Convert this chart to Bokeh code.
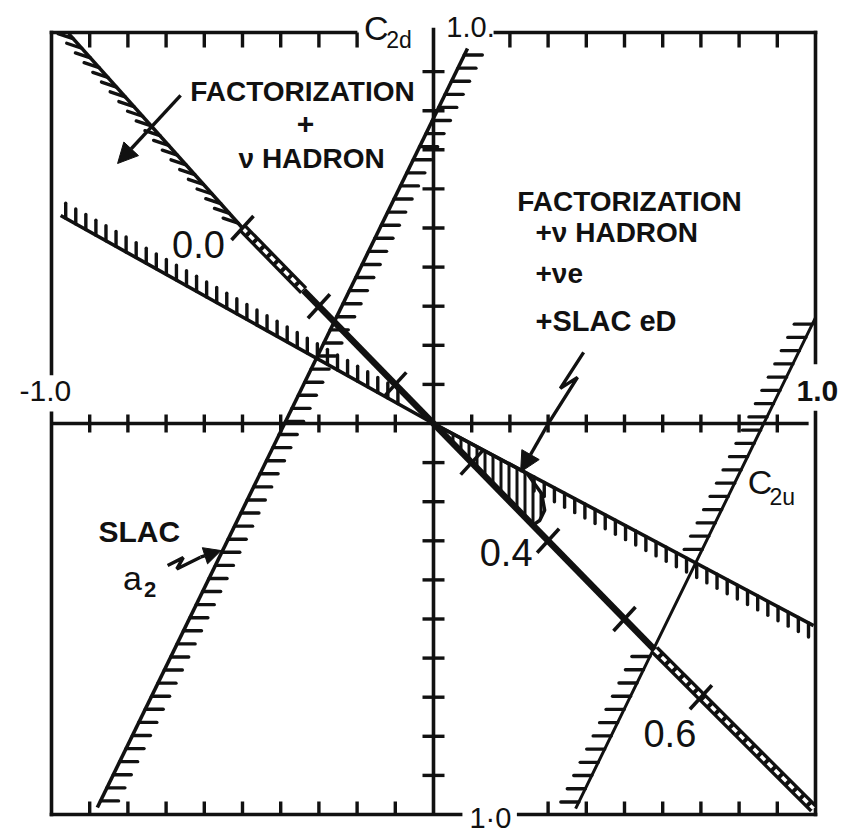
import numpy as np
from bokeh.plotting import figure
from bokeh.models import Range1d, Arrow, NormalHead, ColumnDataSource
from bokeh.core.properties import value
from bokeh.embed import file_html
from bokeh.resources import INLINE

# ---- data (C2u on x, C2d on y) ----
axis_min, axis_max = -1.0, 1.0
tick_step = 0.1

# standard-model line C2d = -C2u; vertices split it into its drawn styles
ws_c2u = [-0.955, -0.5, -0.34, 0.579, 0.995]
ws_c2d = [0.997, 0.5, 0.34, -0.579, -0.985]
# sin^2(theta_W) marks along it
ws_tick_c2u = [-0.5, -0.3, -0.1, 0.1, 0.3, 0.5, 0.7]
ws_tick_c2d = [0.5, 0.3, 0.1, -0.1, -0.3, -0.5, -0.7]
ws_tick_labels = ["0.0", "", "", "", "0.4", "", "0.6"]

# factorization + nu-hadron bound through the origin
fh_c2u = [-0.976, -0.08, 0.0, 0.25, 0.995]
fh_c2d = [0.532, 0.0436, 0.0, -0.13, -0.517]

# SLAC a2 edge
a2_c2u = [-0.880, 0.089]
a2_c2d = [-0.982, 0.959]

# C2u-side edge (hatched except between the two crossings)
cu_c2u = [0.372, 0.575, 0.695, 1.0]
cu_c2d = [-0.985, -0.579, -0.339, 0.271]

# combined allowed region
lens_c2u = [0.0, 0.245, 0.283, 0.291, 0.278, 0.26, 0.0]
lens_c2d = [0.0, -0.128, -0.179, -0.222, -0.248, -0.26, 0.0]

# ---- figure ----
SX, SY = 382.0, 391.0  # pixels per unit
p = figure(width=844, height=833,
           x_range=Range1d(-433 / SX, (844 - 433) / SX),
           y_range=Range1d(-(833 - 423) / SY, 423 / SY),
           x_axis_type=None, y_axis_type=None,
           output_backend="svg", toolbar_location=None, min_border=0)
p.grid.visible = False
p.outline_line_color = None
p.background_fill_color = "white"
p.border_fill_color = "white"

INK = "#111111"
FONT = value("Liberation Sans")


def strokes(x0, y0, x1, y1, spacing, dx_px, dy_px):
    """Short hatch strokes spaced evenly along a segment, offset in pixels."""
    length = np.hypot((x1 - x0) * SX, (y1 - y0) * SY)
    n = max(int(length // spacing), 1)
    t = (np.arange(n) + 0.5) / n
    xa = x0 + t * (x1 - x0)
    ya = y0 + t * (y1 - y0)
    return xa, ya, xa + dx_px / SX, ya + dy_px / SY


def draw_strokes(seg, width=3.4):
    x0, y0, x1, y1 = seg
    p.segment(x0, y0, x1, y1, line_color=INK, line_width=width, line_cap="round")


# ---- frame with gaps for the labels ----
fx0 = [axis_min, 0.162, axis_min, 0.223, axis_min, axis_min, axis_max, axis_max]
fy0 = [axis_max, axis_max, axis_min, axis_min, axis_max, 0.026, axis_max, 0.028]
fx1 = [-0.204, axis_max, 0.071, axis_max, axis_min, axis_min, axis_max, axis_max]
fy1 = [axis_max, axis_max, axis_min, axis_min, 0.128, axis_min, 0.156, axis_min]
p.segment(fx0, fy0, fx1, fy1, line_color=INK, line_width=3.6, line_cap="square")

ticks = [round(k * tick_step, 1) for k in range(-9, 10) if k != 0]
top_ticks = [t for t in ticks if abs(t) > 0.15]
bot_ticks = [t for t in ticks if not (0.05 < t < 0.25)]
p.segment(top_ticks, [axis_max] * len(top_ticks), top_ticks,
          [axis_max - 15 / SY] * len(top_ticks), line_color=INK, line_width=3.4)
p.segment(bot_ticks, [axis_min] * len(bot_ticks), bot_ticks,
          [axis_min + 13 / SY] * len(bot_ticks), line_color=INK, line_width=3.4)

# ---- central axes ----
p.segment([axis_min, 0], [0, axis_min], [0.982, 0], [0, 1.012],
          line_color=INK, line_width=3.6)
p.segment(ticks, [-9 / SY] * len(ticks), ticks, [9 / SY] * len(ticks),
          line_color=INK, line_width=3.4)
p.segment([-11 / SX] * len(ticks), ticks, [11 / SX] * len(ticks), ticks,
          line_color=INK, line_width=3.4)

# ---- combined allowed region ----
p.patch(lens_c2u, lens_c2d, fill_color="white", line_color=INK, line_width=3.5,
        hatch_pattern="|", hatch_color=INK, hatch_weight=3, hatch_scale=8)

# ---- hatching ----
draw_strokes(strokes(ws_c2u[0], ws_c2d[0], ws_c2u[1], ws_c2d[1], 13, -15, 5))
draw_strokes(strokes(fh_c2u[0], fh_c2d[0], fh_c2u[1], fh_c2d[1], 11.5, 0, 15))
draw_strokes(strokes(fh_c2u[3], fh_c2d[3], fh_c2u[4], fh_c2d[4], 11.5, 0, -14))
draw_strokes(strokes(a2_c2u[0], a2_c2d[0], a2_c2u[1], a2_c2d[1], 14.5, 18, 0))
draw_strokes(strokes(cu_c2u[0], cu_c2d[0], cu_c2u[1], cu_c2d[1], 14.5, -18, 0))
draw_strokes(strokes(cu_c2u[2], cu_c2d[2], cu_c2u[3], cu_c2d[3], 14.5, -18, 0))

# ---- bounding lines ----
p.line(fh_c2u, fh_c2d, line_color=INK, line_width=3.6)
p.line(a2_c2u, a2_c2d, line_color=INK, line_width=3.6)
p.line(cu_c2u, cu_c2d, line_color=INK, line_width=3)

# standard-model line: thin, ladder, thick, ladder
p.line(ws_c2u[0:2], ws_c2d[0:2], line_color=INK, line_width=3.6)
for i in (1, 3):
    xs, ys = ws_c2u[i:i + 2], ws_c2d[i:i + 2]
    p.line(xs, ys, line_color=INK, line_width=10)
    p.line(xs, ys, line_color="white", line_width=3.5, line_dash="6 4")
p.line(ws_c2u[2:4], ws_c2d[2:4], line_color=INK, line_width=6.5)

# sin^2 marks across the line
tx = np.array(ws_tick_c2u)
ty = np.array(ws_tick_c2d)
p.segment(tx - 11 / SX, ty - 12 / SY, tx + 11 / SX, ty + 12 / SY,
          line_color=INK, line_width=3.6)
lab_src = ColumnDataSource(dict(
    x=[x for x, s in zip(ws_tick_c2u, ws_tick_labels) if s],
    y=[y for y, s in zip(ws_tick_c2d, ws_tick_labels) if s],
    text=[s for s in ws_tick_labels if s],
    dx=[-44, -42, -31], dy=[16, 12, 36]))
p.text(x="x", y="y", text="text", x_offset="dx", y_offset="dy", source=lab_src,
       text_font=FONT, text_font_size="38px", text_color=INK,
       text_align="center", text_baseline="middle")

# ---- arrows ----
p.add_layout(Arrow(end=NormalHead(size=20, fill_color=INK, line_color=INK),
                   x_start=-0.662, y_start=0.839, x_end=-0.827, y_end=0.665,
                   line_color=INK, line_width=3.4))
p.line([0.393, 0.332, 0.377, 0.30], [0.182, 0.090, 0.118, -0.001],
       line_color=INK, line_width=3.4)
p.add_layout(Arrow(end=NormalHead(size=20, fill_color=INK, line_color=INK),
                   x_start=0.30, y_start=-0.001, x_end=0.228, y_end=-0.124,
                   line_color=INK, line_width=3.4))
p.line([-0.696, -0.655, -0.672, -0.61], [-0.363, -0.343, -0.372, -0.342],
       line_color=INK, line_width=3.4)
p.add_layout(Arrow(end=NormalHead(size=17, fill_color=INK, line_color=INK),
                   x_start=-0.61, y_start=-0.342, x_end=-0.556, y_end=-0.325,
                   line_color=INK, line_width=3.4))

# ---- labels ----
def label(x, y, s, size, align="center", style="bold"):
    p.text(x=[x], y=[y], text=[s], text_font=FONT, text_font_size=size,
           text_font_style=style, text_color=INK, text_align=align,
           text_baseline="middle")


label(-0.343, 0.849, "FACTORIZATION", "28px")
label(-0.335, 0.766, "+", "30px")
label(-0.319, 0.678, "ν HADRON", "28px")

label(0.513, 0.568, "FACTORIZATION", "28px")
label(0.267, 0.488, "+ν HADRON", "28px", "left")
label(0.267, 0.384, "+νe", "28px", "left")
label(0.267, 0.261, "+SLAC eD", "29px", "left")

label(-0.770, -0.276, "SLAC", "30px")
label(-0.788, -0.396, "a", "34px", style="normal")
label(-0.742, -0.425, "2", "22px")

label(-1.016, 0.082, "-1.0", "30px", style="normal")
label(0.097, 1.013, "1.0.", "29px", style="normal")
label(1.005, 0.082, "1.0", "30px")
label(0.149, -1.008, "1·0", "29px", style="normal")

label(-0.150, 1.011, "C", "34px", style="normal")
label(-0.090, 0.982, "2d", "23px", style="normal")
label(0.855, -0.150, "C", "34px", style="normal")
label(0.913, -0.189, "2u", "23px", style="normal")

open("out.html", "w").write(file_html(p, INLINE))
